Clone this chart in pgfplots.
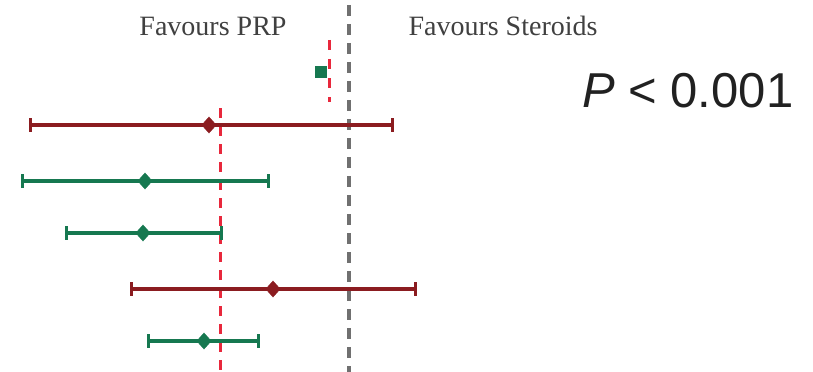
\documentclass[border=0pt]{standalone}
\usepackage{fontspec}
\setmainfont{Liberation Serif}
\newfontfamily\arial{Liberation Sans}
\usepackage{pgfplots}
\usepackage{pgfplotstable}
\pgfplotsset{compat=1.18}
\definecolor{dred}{RGB}{139,28,32}
\definecolor{dgreen}{RGB}{22,120,80}
\definecolor{lred}{RGB}{232,40,60}
\definecolor{lgrey}{RGB}{112,112,112}
% study rows (horizontal position, row position, CI minus, CI plus)
\pgfplotstableread{
x   y   em  ep
209 125 179 183
273 289 142 142
}\redrows
\pgfplotstableread{
x   y   em  ep
145 181 123 123
143 233 77  78
204 341 56  54
}\greenrows
\begin{document}
\begin{tikzpicture}
\begin{axis}[
  scale only axis, width=813bp, height=372bp,
  xmin=0, xmax=813, ymin=0, ymax=372, y dir=reverse,
  hide axis, clip=false,
]
\path[use as bounding box] (axis cs:0,0) rectangle (axis cs:813,372);
% reference lines
\addplot[lgrey, line width=3.5bp, dash pattern=on 11bp off 8bp] coordinates {(349,5) (349,372)};
\addplot[lred, line width=3bp, dash pattern=on 10bp off 8bp] coordinates {(220,108) (220,372)};
\addplot[lred, line width=3bp, dash pattern=on 10bp off 9bp] coordinates {(329,40) (329,102)};
% pooled estimate
\addplot[only marks, mark=square*, mark size=5.5bp, color=dgreen] coordinates {(321,72)};
% studies: CI lines
\addplot[only marks, mark=none, color=dred,
  error bars/.cd, x dir=both, x explicit, error mark=none,
  error bar style={line width=3.2bp, dred}]
  table[x=x, y=y, x error minus=em, x error plus=ep] {\redrows};
\addplot[only marks, mark=none, color=dgreen,
  error bars/.cd, x dir=both, x explicit, error mark=none,
  error bar style={line width=3.2bp, dgreen}]
  table[x=x, y=y, x error minus=em, x error plus=ep] {\greenrows};
% CI end caps
\addplot[only marks, mark=|, mark size=7bp, mark options={line width=3bp}, color=dred]
  table[x expr=\thisrow{x}-\thisrow{em}, y=y] {\redrows};
\addplot[only marks, mark=|, mark size=7bp, mark options={line width=3bp}, color=dred]
  table[x expr=\thisrow{x}+\thisrow{ep}, y=y] {\redrows};
\addplot[only marks, mark=|, mark size=7bp, mark options={line width=3bp}, color=dgreen]
  table[x expr=\thisrow{x}-\thisrow{em}, y=y] {\greenrows};
\addplot[only marks, mark=|, mark size=7bp, mark options={line width=3bp}, color=dgreen]
  table[x expr=\thisrow{x}+\thisrow{ep}, y=y] {\greenrows};
% point estimates
\addplot[only marks, mark=diamond*, mark size=8bp, mark options={xscale=1.2}, color=dred]
  table[x=x, y=y] {\redrows};
\addplot[only marks, mark=diamond*, mark size=8bp, mark options={xscale=1.2}, color=dgreen]
  table[x=x, y=y] {\greenrows};
% texts
\node[anchor=base, inner sep=0pt, text=black!75, font=\fontsize{28bp}{30bp}\selectfont] at (axis cs:213,35) {Favours PRP};
\node[anchor=base, inner sep=0pt, text=black!75, font=\fontsize{28bp}{30bp}\selectfont] at (axis cs:503,35) {Favours Steroids};
\node[anchor=base west, inner sep=0pt, text=black!87, font=\arial\fontsize{49bp}{52bp}\selectfont] at (axis cs:582,107) {\textit{P} < 0.001};
\end{axis}
\end{tikzpicture}
\end{document}
